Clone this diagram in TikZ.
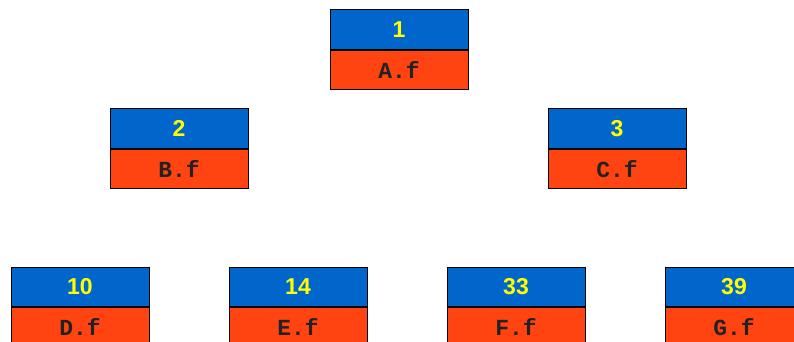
\documentclass[tikz,border=0pt]{standalone}
\usepackage{fontspec}
\setmainfont{Liberation Sans}
\newfontfamily\monofont{Liberation Mono}
\usetikzlibrary{positioning}
\definecolor{keycol}{HTML}{0066CC}
\definecolor{filecol}{HTML}{FF4411}
\definecolor{numcol}{HTML}{FFFF00}
\definecolor{txtcol}{HTML}{222222}

\begin{document}
\begin{tikzpicture}[x=1pt,y=-1pt,
   key/.style={draw=black,line width=0.9pt,fill=keycol,minimum width=138pt,
              minimum height=39.5pt,inner sep=0pt,text=numcol,
              font=\fontsize{23}{23}\selectfont\bfseries},
   fname/.style={draw=black,line width=0.9pt,fill=filecol,minimum width=138pt,
              minimum height=39.5pt,inner sep=0pt,text=txtcol,
              font=\monofont\fontsize{23}{23}\selectfont\bfseries},
   node distance=0pt,
]
\useasboundingbox (0,0) rectangle (794,342);
% ----- top level
\node[key] (k1) at (399,29.5) {1};
\node[fname,below=of k1] (f1) {A.f};
% ----- second level
\node[key] (k2) at (179,128.5) {2};
\node[fname,below=of k2] (f2) {B.f};
\node[key] (k3) at (617,128.5) {3};
\node[fname,below=of k3] (f3) {C.f};
% ----- third level (cut at the lower edge)
\node[key] (k10) at (80,287) {10};
\node[fname,below=of k10] (f10) {D.f};
\node[key] (k14) at (298,287) {14};
\node[fname,below=of k14] (f14) {E.f};
\node[key] (k33) at (516,287) {33};
\node[fname,below=of k33] (f33) {F.f};
\node[key] (k39) at (734,287) {39};
\node[fname,below=of k39] (f39) {G.f};
\end{tikzpicture}
\end{document}
